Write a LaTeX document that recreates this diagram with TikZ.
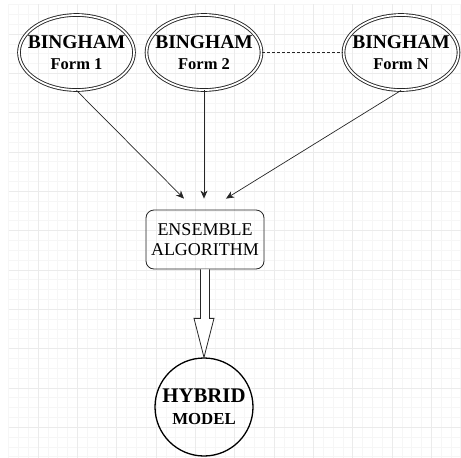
\documentclass[tikz,border=0pt]{standalone}
\usepackage{fontspec}
\setmainfont{Liberation Serif}
\usetikzlibrary{shapes.geometric,arrows.meta,calc}
\tikzset{
  bingham/.style={ellipse, draw=black!85, double, double distance=1.8pt, line width=0.9pt,
    minimum width=115, minimum height=75, inner xsep=-12pt, inner ysep=0pt, align=center,
    font=\fontsize{16.5}{20.5}\selectfont\bfseries},
  algobox/.style={draw=black!85, rounded corners=8pt, line width=0.8pt, minimum width=118,
    minimum height=59, inner sep=0pt, align=center, font=\fontsize{18}{20}\selectfont},
  hybrid/.style={circle, draw=black, line width=1.3pt, minimum size=98, inner sep=0pt,
    align=center, font=\fontsize{16.8}{21.5}\selectfont\bfseries},
  conn/.style={draw=black!85, line width=0.7pt, -{Stealth[length=8pt,width=7pt,inset=2.5pt]}},
  minorgrid/.style={draw=gray!7, line width=0.4pt},
  majorgrid/.style={draw=gray!16, line width=0.5pt}
}
\begin{document}
\begin{tikzpicture}[x=1pt,y=-1pt]
\useasboundingbox (0,0) rectangle (461,458);
% grid
\foreach \i in {0,...,46} {
  \pgfmathsetmacro{\gx}{8.5+9.83*\i}
  \ifdim\gx pt<461pt
    \draw[minorgrid] (\gx,4.4) -- (\gx,458);
  \fi
}
\foreach \i in {0,...,46} {
  \pgfmathsetmacro{\gy}{4.4+9.83*\i}
  \ifdim\gy pt<458pt
    \draw[minorgrid] (8.5,\gy) -- (461,\gy);
  \fi
}
\foreach \i in {0,...,11} {
  \pgfmathsetmacro{\gx}{38+39.32*\i}
  \ifdim\gx pt<461pt
    \draw[majorgrid] (\gx,4.4) -- (\gx,458);
  \fi
  \pgfmathsetmacro{\gy}{33.9+39.32*\i}
  \ifdim\gy pt<458pt
    \draw[majorgrid] (8.5,\gy) -- (461,\gy);
  \fi
}
% nodes
\node[bingham] (e1) at (76.5,52.5) {{\fontsize{19.5}{20}\selectfont BINGHAM}\\Form 1};
\node[bingham] (e2) at (204,52.5) {{\fontsize{19.5}{20}\selectfont BINGHAM}\\Form 2};
\node[bingham] (eN) at (401,52.5) {{\fontsize{19.5}{20}\selectfont BINGHAM}\\Form N};
\node[algobox] (box) at (205,239.5) {ENSEMBLE\\ALGORITHM};
\node[hybrid] (hyb) at (204,407) {{\fontsize{20.8}{22}\selectfont HYBRID}\\MODEL};
% connectors
\draw[draw=black!85, line width=0.6pt, dash pattern=on 3pt off 2pt] (e2.east) -- (eN.west);
\coordinate (t1) at ($(box.north)+(-21,-11)$);
\coordinate (t2) at ($(box.north)+(-1,-11)$);
\coordinate (tN) at ($(box.north)+(21,-11)$);
\draw[conn] (e1.south) -- (t1);
\draw[conn] (e2.south) -- (t2);
\draw[conn] (eN.south) -- (tN);
% hollow block arrow
\draw[draw=black!85, line width=0.8pt, fill=white, line join=miter]
  ($(box.south)+(-4.5,0)$) |- ($(hyb.north)+(-10,-39)$) -- (hyb.north)
  -- ($(hyb.north)+(10,-39)$) -| ($(box.south)+(4.5,0)$);
\end{tikzpicture}
\end{document}
